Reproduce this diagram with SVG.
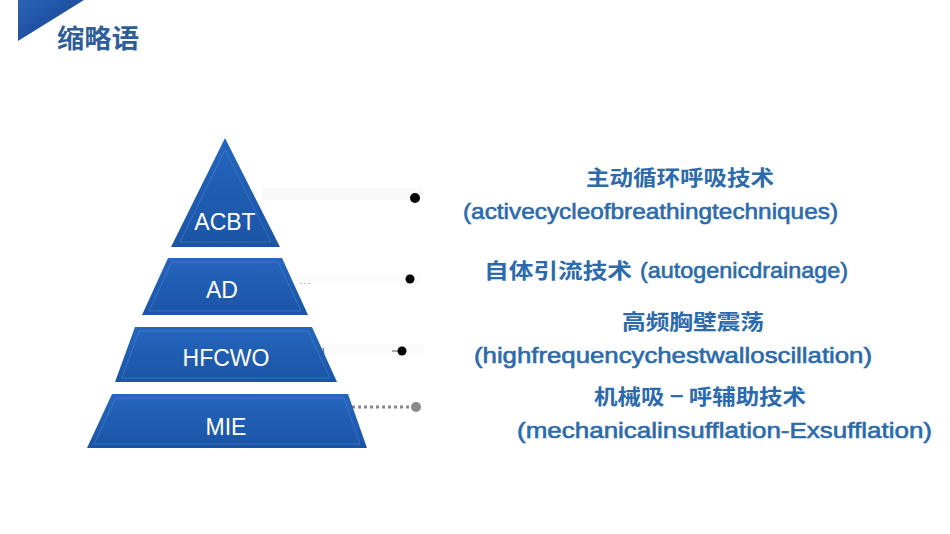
<svg xmlns="http://www.w3.org/2000/svg" width="950" height="534" viewBox="0 0 950 534">
<defs>
<linearGradient id="blk" x1="0" y1="0" x2="0" y2="1">
<stop offset="0" stop-color="#2466bd"/>
<stop offset="1" stop-color="#1b54a6"/>
</linearGradient>
<linearGradient id="corner" x1="0" y1="0" x2="1" y2="1">
<stop offset="0" stop-color="#2a63b8"/>
<stop offset="1" stop-color="#163f8c"/>
</linearGradient>
<style>
.blk{fill:url(#blk);}
.inner{fill:none;stroke:#5a8fd6;stroke-opacity:0.45;stroke-width:1;}
.lbl{font-family:"Liberation Sans",Arial,sans-serif;font-size:23px;fill:#ffffff;text-anchor:middle;}
.cn{font-family:"Noto Sans CJK SC","Liberation Sans",sans-serif;font-size:21px;font-weight:bold;fill:#2b6aac;}
.en{font-family:"Liberation Sans",Arial,sans-serif;font-size:22px;fill:#2b6aac;stroke:#2b6aac;stroke-width:0.6px;}
.dot{fill:#000000;}
.band{fill:#f4f4f4;}
</style>
</defs>
<rect width="950" height="534" fill="#ffffff"/>
<polygon points="18,0 84,0 18,41" fill="url(#corner)"/>
<text x="57" y="48" font-family="Noto Sans CJK SC,sans-serif" font-size="26" font-weight="bold" fill="#2e5d9c" textLength="82" lengthAdjust="spacingAndGlyphs">缩略语</text>

<g id="connectors">
<rect class="band" x="262" y="188" width="160" height="12" opacity="0.5"/>
<rect class="band" x="290" y="274" width="132" height="10" opacity="0.4"/>
<rect class="band" x="318" y="344" width="106" height="12" opacity="0.4"/>
<circle class="dot" cx="415" cy="198" r="5"/>
<circle class="dot" cx="410" cy="279" r="4.5"/>
<line x1="392" y1="351" x2="398" y2="351" stroke="#555" stroke-width="1"/>
<circle class="dot" cx="402" cy="351" r="4.5"/>
<line x1="352" y1="407" x2="412" y2="407" stroke="#888" stroke-width="3" stroke-dasharray="3,3"/>
<circle cx="416" cy="407" r="5" fill="#8a8a8a"/>
<text x="300" y="284" font-family="Liberation Serif,serif" font-size="8" fill="#333">. . .</text>
<text x="321" y="354" font-family="Liberation Serif,serif" font-size="9" fill="#333">1</text>
</g>

<g id="acbt">
<polygon class="blk" points="225,138 280,247 171,247"/>
<polygon class="inner" points="225,150 271,242 180,242"/>
<text class="lbl" x="225" y="230">ACBT</text>
</g>
<g id="ad">
<polygon class="blk" points="168,258 282,258 308,315 142,315"/>
<polygon class="inner" points="172,262 278,262 301,311 149,311"/>
<text class="lbl" x="222" y="298">AD</text>
</g>
<g id="hfcwo">
<polygon class="blk" points="135,327 312,327 337,382 115,382"/>
<polygon class="inner" points="139,331 308,331 330,378 122,378"/>
<text class="lbl" x="226" y="366">HFCWO</text>
</g>
<g id="mie">
<polygon class="blk" points="112,394 348,394 367,448 87,448"/>
<polygon class="inner" points="116,398 344,398 360,444 94,444"/>
<text class="lbl" x="226" y="435">MIE</text>
</g>

<g id="labels">
<text class="cn" x="586" y="185" textLength="188" lengthAdjust="spacingAndGlyphs">主动循环呼吸技术</text>
<text class="en" x="463" y="219" textLength="375" lengthAdjust="spacingAndGlyphs">(activecycleofbreathingtechniques)</text>
<text class="cn" x="484" y="278"><tspan textLength="148" lengthAdjust="spacingAndGlyphs">自体引流技术</tspan><tspan class="en" font-weight="normal" x="640" textLength="208" lengthAdjust="spacingAndGlyphs">(autogenicdrainage)</tspan></text>
<text class="cn" x="622" y="329" textLength="142" lengthAdjust="spacingAndGlyphs">高频胸壁震荡</text>
<text class="en" x="474" y="363" textLength="398" lengthAdjust="spacingAndGlyphs">(highfrequencychestwalloscillation)</text>
<text class="cn" x="594" y="404" textLength="212" lengthAdjust="spacingAndGlyphs">机械吸 − 呼辅助技术</text>
<text class="en" x="517" y="438" textLength="415" lengthAdjust="spacingAndGlyphs">(mechanicalinsufflation-Exsufflation)</text>
</g>
</svg>
